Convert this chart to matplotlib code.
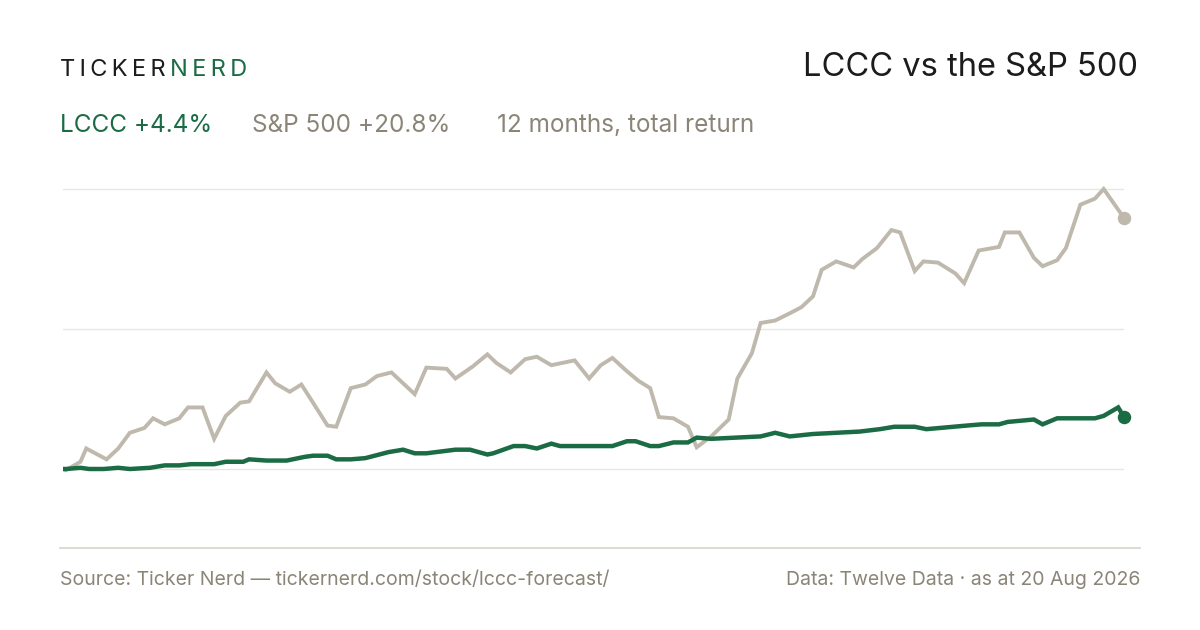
import matplotlib
matplotlib.use("Agg")
import matplotlib.pyplot as plt

# S&P 500 total return, % vs start, by day since start
spx_days = [0, 1, 6, 8, 15, 19, 23, 28, 31, 35, 40, 43, 48, 52, 56, 61, 64, 70, 73, 78, 82, 86,
            91, 94, 99, 104, 108, 113, 121, 125, 132, 135, 141, 146, 149, 154, 159, 163, 168,
            176, 181, 185, 189, 194, 198, 202, 205, 210, 215, 218, 223, 229, 232, 237, 240,
            245, 250, 254, 258, 261, 266, 272, 275, 280, 285, 288, 293, 296, 301, 307, 310,
            315, 322, 324, 329, 334, 337, 342, 345, 350, 355, 358, 365]
spx_pct = [0.0, -0.1, 0.6, 1.7, 0.8, 1.7, 3.0, 3.4, 4.2, 3.7, 4.2, 5.1, 5.1, 2.5, 4.4, 5.5, 5.6,
           8.0, 7.1, 6.4, 7.0, 5.5, 3.6, 3.5, 6.7, 7.0, 7.7, 8.0, 6.2, 8.4, 8.3, 7.5, 8.5, 9.5,
           8.8, 8.0, 9.1, 9.3, 8.6, 9.0, 7.5, 8.6, 9.2, 8.1, 7.3, 6.7, 4.3, 4.2, 3.5, 1.8, 2.7,
           4.1, 7.5, 9.6, 12.1, 12.3, 12.9, 13.4, 14.3, 16.5, 17.2, 16.7, 17.4, 18.3, 19.8,
           19.6, 16.4, 17.2, 17.1, 16.2, 15.4, 18.1, 18.4, 19.6, 19.6, 17.5, 16.8, 17.3, 18.3,
           21.9, 22.4, 23.2, 20.8]

lccc_days = [0, 1, 6, 9, 14, 19, 23, 30, 35, 40, 44, 52, 56, 62, 64, 70, 77, 83, 86, 91, 94,
             99, 104, 112, 117, 121, 125, 135, 140, 146, 148, 155, 159, 163, 168, 171, 189,
             194, 197, 202, 205, 210, 215, 218, 223, 240, 245, 250, 258, 274, 281, 286, 293,
             297, 311, 316, 322, 325, 334, 337, 342, 355, 358, 363, 365]
lccc_pct = [0.0, 0.0, 0.1, 0.0, 0.0, 0.1, 0.0, 0.1, 0.3, 0.3, 0.4, 0.4, 0.6, 0.6, 0.8, 0.7,
            0.7, 1.0, 1.1, 1.1, 0.8, 0.8, 0.9, 1.4, 1.6, 1.3, 1.3, 1.6, 1.6, 1.2, 1.3, 1.9,
            1.9, 1.7, 2.1, 1.9, 1.9, 2.3, 2.3, 1.9, 1.9, 2.2, 2.2, 2.6, 2.5, 2.7, 3.0, 2.7,
            2.9, 3.1, 3.3, 3.5, 3.5, 3.3, 3.6, 3.7, 3.7, 3.9, 4.1, 3.7, 4.2, 4.2, 4.4, 5.1, 4.3]

GREEN = "#1b6b44"
SAND = "#bfb9ad"
MUTED = "#8a8577"
DARK = "#1c1c1c"

plt.rcParams["font.family"] = ["Inter", "DejaVu Sans"]
fig = plt.figure(figsize=(12, 6.3), dpi=100)
ax = fig.add_axes([63 / 1200, 82 / 630, 1061 / 1200, 368 / 630])

top = max(spx_pct)
for g in [0, top / 2, top]:
    ax.axhline(g, color="#e8e6e0", lw=1, zorder=0)

ax.plot(spx_days, spx_pct, color=SAND, lw=2.8, solid_joinstyle="miter", zorder=2)
ax.plot(lccc_days, lccc_pct, color=GREEN, lw=3.2, solid_joinstyle="miter", zorder=3)
ax.scatter([spx_days[-1]], [spx_pct[-1]], s=75, color=SAND, zorder=4, clip_on=False)
ax.scatter([lccc_days[-1]], [lccc_pct[-1]], s=75, color=GREEN, zorder=4, clip_on=False)

ax.set_xlim(0, 365)
ax.set_ylim(-79 / 12.07, 289 / 12.07)
ax.axis("off")

# bottom rule
fig.add_artist(plt.Line2D([60 / 1200, 1140 / 1200], [82 / 630, 82 / 630],
                          color="#d6d3cb", lw=1.2))

ts = "\u2009"
fig.text(60 / 1200, 1 - 70 / 630, ts.join("TICKER"), color=DARK, fontsize=17, va="center")
fig.text(170 / 1200, 1 - 70 / 630, ts.join("NERD"), color=GREEN, fontsize=17, va="center")
fig.text(1138 / 1200, 1 - 68 / 630, "LCCC vs the S&P 500", color=DARK, fontsize=23.5,
         ha="right", va="center")

fig.text(60 / 1200, 1 - 125 / 630, "LCCC +4.4%", color=GREEN, fontsize=17.5, va="center")
fig.text(252 / 1200, 1 - 125 / 630, "S&P 500 +20.8%", color=MUTED, fontsize=17.5, va="center")
fig.text(497 / 1200, 1 - 125 / 630, "12 months, total return", color=MUTED, fontsize=17.5,
         va="center")

fig.text(60 / 1200, 1 - 580 / 630, "Source: Ticker Nerd — tickernerd.com/stock/lccc-forecast/",
         color=MUTED, fontsize=14, va="center")
fig.text(1140 / 1200, 1 - 580 / 630, "Data: Twelve Data · as at 20 Aug 2026", color=MUTED,
         fontsize=14, ha="right", va="center")

fig.savefig("out.png", dpi=100, facecolor="white")
